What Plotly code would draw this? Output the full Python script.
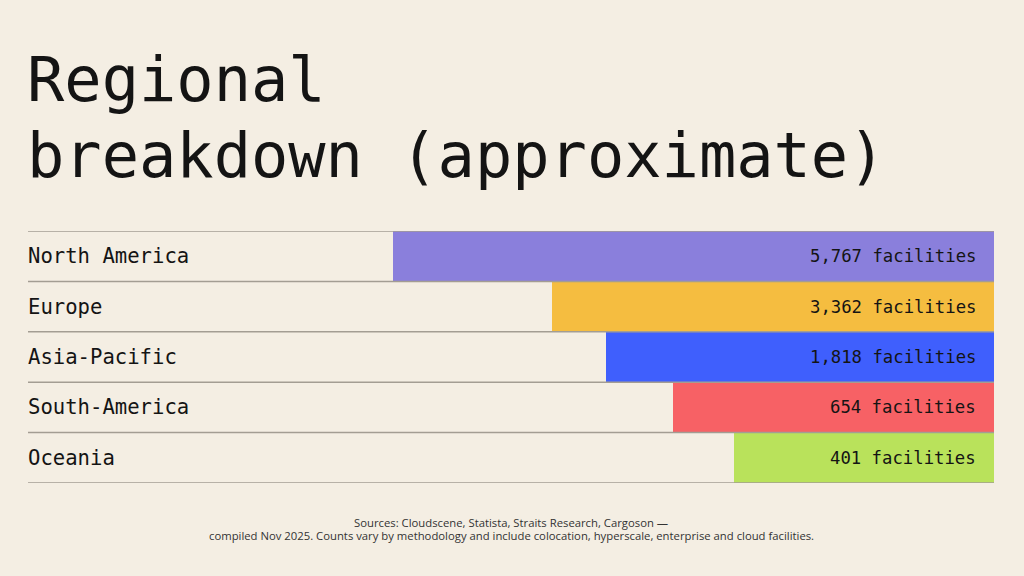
import plotly.graph_objects as go

# ---- data ----
regions = ["North America", "Europe", "Asia-Pacific", "South-America", "Oceania"]
facilities = [5767, 3362, 1818, 654, 401]
# displayed bar length, as % of the chart width (read from the picture; not linear in the counts)
bar_length = [62.2, 45.8, 40.2, 33.2, 26.9]
colors = ["#8A7FDC", "#F5BD40", "#3F5FFD", "#F76165", "#B9E25B"]

title_lines = ["Regional", "breakdown (approximate)"]
note_lines = [
    "Sources: Cloudscene, Statista, Straits Research, Cargoson —",
    "compiled Nov 2025. Counts vary by methodology and include colocation, hyperscale, enterprise and cloud facilities.",
]

BG = "#F4EEE3"
INK = "#141414"
RULE = "#A39D93"
MONO = "DejaVu Sans Mono"

W, H = 1024, 576
PLOT_TOP, PLOT_BOTTOM = 231.3, 482.7
ML, MR = 28, 30


def py(p):
    """pixel y -> paper y"""
    return (PLOT_BOTTOM - p) / (PLOT_BOTTOM - PLOT_TOP)


fig = go.Figure()
fig.add_trace(go.Bar(
    y=regions, x=bar_length, orientation="h",
    marker=dict(color=colors, line=dict(width=0)),
    hoverinfo="skip", showlegend=False,
))

annotations = []
for r, v in zip(regions, facilities):
    annotations.append(dict(
        x=0, xref="paper", y=r, yref="y", xanchor="left", yanchor="middle", xshift=-2,
        text=r, showarrow=False, font=dict(family=MONO, size=20.6, color=INK),
    ))
    annotations.append(dict(
        x=0, xref="x", y=r, yref="y", xanchor="right", yanchor="middle", xshift=-16,
        text=f"{v:,} facilities", showarrow=False,
        font=dict(family=MONO, size=17.3, color=INK),
    ))

annotations.append(dict(x=0, xref="paper", y=py(80), yref="paper", xanchor="left", yanchor="middle",
                        text=title_lines[0], showarrow=False, xshift=-3,
                        font=dict(family=MONO, size=62, color=INK)))
annotations.append(dict(x=0, xref="paper", y=py(155.5), yref="paper", xanchor="left", yanchor="middle",
                        text=title_lines[1], showarrow=False, xshift=-3,
                        font=dict(family=MONO, size=62, color=INK)))
annotations.append(dict(x=0.5, xref="paper", y=py(522), yref="paper", xanchor="center", yanchor="middle",
                        text=note_lines[0], showarrow=False,
                        font=dict(family="Open Sans", size=11.3, color="#333333")))
annotations.append(dict(x=0.5, xref="paper", y=py(535.5), yref="paper", xanchor="center", yanchor="middle",
                        text=note_lines[1], showarrow=False,
                        font=dict(family="Open Sans", size=11.3, color="#333333")))

shapes = []
for i in range(len(regions) + 1):
    shapes.append(dict(type="line", xref="paper", x0=0, x1=1, yref="y", y0=i - 0.5, y1=i - 0.5,
                       line=dict(color=RULE, width=1.5), layer="above"))

fig.update_layout(
    width=W, height=H,
    margin=dict(l=ML, r=MR, t=PLOT_TOP, b=H - PLOT_BOTTOM, pad=0),
    paper_bgcolor=BG, plot_bgcolor=BG,
    bargap=0,
    xaxis=dict(range=[100, 0], visible=False, fixedrange=True),
    yaxis=dict(categoryorder="array", categoryarray=regions, range=[len(regions) - 0.5, -0.5],
               visible=False, fixedrange=True),
    annotations=annotations, shapes=shapes,
)

fig.write_html("out.html", config={"displayModeBar": False})
